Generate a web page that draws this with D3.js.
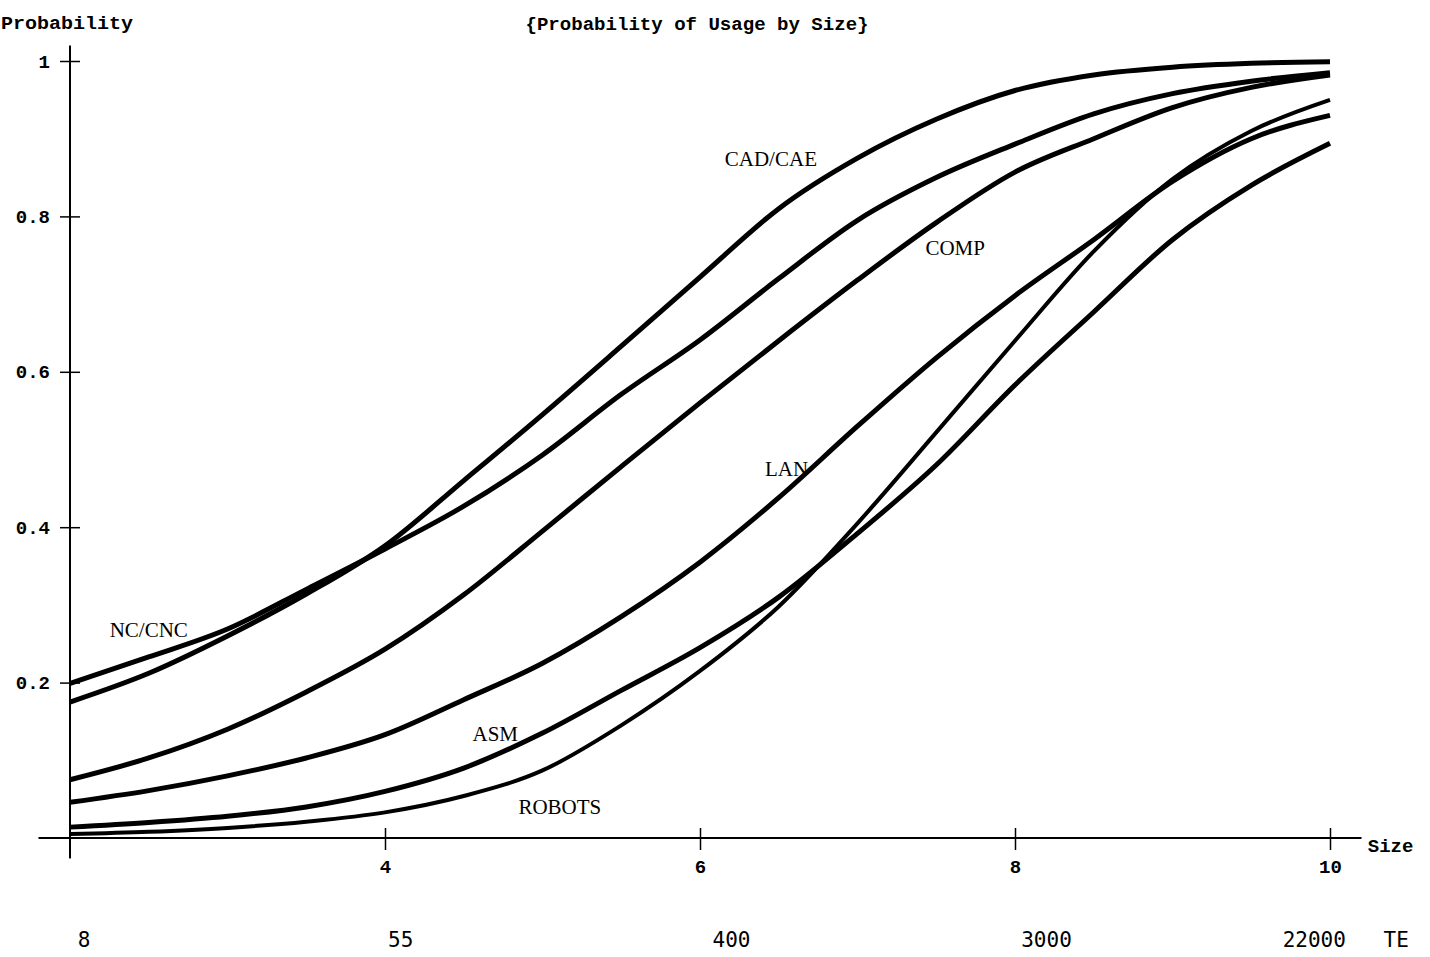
<!DOCTYPE html>
<html>
<head>
<meta charset="utf-8">
<script src="https://cdn.jsdelivr.net/npm/d3@7"></script>
<style>
  body { margin: 0; background: #fff; }
  svg { display: block; }
</style>
</head>
<body>
<script>
// size axis (log of TE) and probability curves
var sizes = [2, 2.5, 3, 3.5, 4, 4.5, 5, 5.5, 6, 6.5, 7, 7.5, 8, 8.5, 9, 9.5, 10];

var cadCae = [0.175, 0.212, 0.260, 0.314, 0.376, 0.460, 0.545, 0.633, 0.722, 0.810, 0.875, 0.925, 0.962, 0.982, 0.992, 0.997, 0.999];
var ncCnc  = [0.199, 0.233, 0.269, 0.320, 0.372, 0.427, 0.493, 0.571, 0.641, 0.720, 0.795, 0.850, 0.893, 0.932, 0.958, 0.974, 0.985];
var comp   = [0.075, 0.103, 0.140, 0.188, 0.243, 0.313, 0.395, 0.478, 0.560, 0.640, 0.718, 0.792, 0.857, 0.900, 0.940, 0.966, 0.982];
var lan    = [0.046, 0.061, 0.080, 0.103, 0.133, 0.178, 0.225, 0.285, 0.355, 0.438, 0.530, 0.618, 0.698, 0.770, 0.845, 0.900, 0.930];
var asm    = [0.014, 0.020, 0.028, 0.040, 0.060, 0.090, 0.135, 0.190, 0.245, 0.310, 0.392, 0.480, 0.583, 0.677, 0.770, 0.840, 0.894];
var robots = [0.005, 0.008, 0.013, 0.021, 0.033, 0.054, 0.087, 0.145, 0.215, 0.298, 0.405, 0.522, 0.640, 0.755, 0.848, 0.910, 0.950];

var seriesValues = [cadCae, ncCnc, comp, lan, asm, robots];

// curve labels and where they sit (data units)
var labelNames = ["CAD/CAE", "NC/CNC", "COMP", "LAN", "ASM", "ROBOTS"];
var labelX = [6.45, 2.50, 7.62, 6.55, 4.70, 5.11];
var labelY = [0.865, 0.259, 0.750, 0.466, 0.125, 0.031];

var yTicks = [0.2, 0.4, 0.6, 0.8, 1];
var yTickLabels = ["0.2", "0.4", "0.6", "0.8", "1"];
var xTicks = [4, 6, 8, 10];
var teTicks = [2.09, 4.1, 6.2, 8.2, 9.9];
var teLabels = ["8", "55", "400", "3000", "22000"];

var svg = d3.select("body")
            .append("svg")
            .attr("width", 1430)
            .attr("height", 957);

var x = d3.scaleLinear().domain([2, 10]).range([70, 1330]);
var y = d3.scaleLinear().domain([0, 1]).range([838, 61]);

var mono = "'Liberation Mono', 'DejaVu Sans Mono', monospace";

// axis lines
svg.append('line')
    .attr('x1', x(2)).attr('x2', x(2))
    .attr('y1', y(1.02)).attr('y2', y(-0.026))
    .attr('stroke', 'black').attr('stroke-width', 2);

svg.append('line')
    .attr('x1', x(1.8)).attr('x2', x(10.2))
    .attr('y1', y(0)).attr('y2', y(0))
    .attr('stroke', 'black').attr('stroke-width', 2);

// y axis ticks crossing the line
var yAxis = svg.append('g')
    .attr('transform', 'translate(' + x(2) + ',0)')
    .call(d3.axisLeft(y).tickValues(yTicks).tickSize(10)
          .tickFormat(function(d, i) { return yTickLabels[i]; }));
yAxis.select('.domain').remove();
yAxis.selectAll('.tick line').attr('x1', 10).attr('stroke-width', 1.5);
yAxis.selectAll('.tick text')
    .attr('x', -20)
    .style('font-family', mono)
    .style('font-weight', 'bold')
    .style('font-size', '19px');

// x axis ticks crossing the line
var xAxis = svg.append('g')
    .attr('transform', 'translate(0,' + y(0) + ')')
    .call(d3.axisBottom(x).tickValues(xTicks).tickSize(12)
          .tickFormat(d3.format('d')));
xAxis.select('.domain').remove();
xAxis.selectAll('.tick line').attr('y1', -10).attr('stroke-width', 1.5);
xAxis.selectAll('.tick text')
    .attr('y', 22)
    .style('font-family', mono)
    .style('font-weight', 'bold')
    .style('font-size', '19px');

// small tick at the origin, going down
svg.append('line')
    .attr('x1', x(2)).attr('x2', x(2))
    .attr('y1', y(0)).attr('y2', y(-0.026))
    .attr('stroke', 'black').attr('stroke-width', 2);

// curves
var line = d3.line()
    .x(function(d, i) { return x(sizes[i]); })
    .y(function(d) { return y(d); })
    .curve(d3.curveMonotoneX);

svg.selectAll('path.curve')
    .data(seriesValues)
    .enter()
    .append('path')
    .attr('class', 'curve')
    .attr('d', line)
    .attr('fill', 'none')
    .attr('stroke', 'black')
    .attr('stroke-width', function(d, i) { return i === 5 ? 4 : 5; })
    .attr('stroke-linejoin', 'round');

// curve labels
svg.selectAll('text.lbl')
    .data(labelNames)
    .enter()
    .append('text')
    .attr('class', 'lbl')
    .attr('x', function(d, i) { return x(labelX[i]); })
    .attr('y', function(d, i) { return y(labelY[i]); })
    .attr('text-anchor', 'middle')
    .style('font-family', "'Liberation Serif', 'DejaVu Serif', serif")
    .style('font-size', '21px')
    .text(function(d) { return d; });

// titles
svg.append('text')
    .attr('x', 697).attr('y', 30)
    .attr('text-anchor', 'middle')
    .attr('textLength', 343)
    .attr('lengthAdjust', 'spacingAndGlyphs')
    .style('font-family', mono)
    .style('font-weight', 'bold')
    .style('font-size', '19px')
    .text('{Probability of Usage by Size}');

svg.append('text')
    .attr('x', 1).attr('y', 29)
    .attr('textLength', 132)
    .attr('lengthAdjust', 'spacingAndGlyphs')
    .style('font-family', mono)
    .style('font-weight', 'bold')
    .style('font-size', '19px')
    .text('Probability');

svg.append('text')
    .attr('x', x(10.24)).attr('y', y(0) + 14)
    .style('font-family', mono)
    .style('font-weight', 'bold')
    .style('font-size', '19px')
    .text('Size');

// TE scale under the axis
svg.selectAll('text.te')
    .data(teLabels)
    .enter()
    .append('text')
    .attr('class', 'te')
    .attr('x', function(d, i) { return x(teTicks[i]); })
    .attr('y', 947)
    .attr('text-anchor', 'middle')
    .style('font-family', "'DejaVu Sans Mono', monospace")
    .style('font-size', '21px')
    .text(function(d) { return d; });

svg.append('text')
    .attr('x', x(10.42)).attr('y', 947)
    .attr('text-anchor', 'middle')
    .style('font-family', "'DejaVu Sans Mono', monospace")
    .style('font-size', '21px')
    .text('TE');
</script>
</body>
</html>
